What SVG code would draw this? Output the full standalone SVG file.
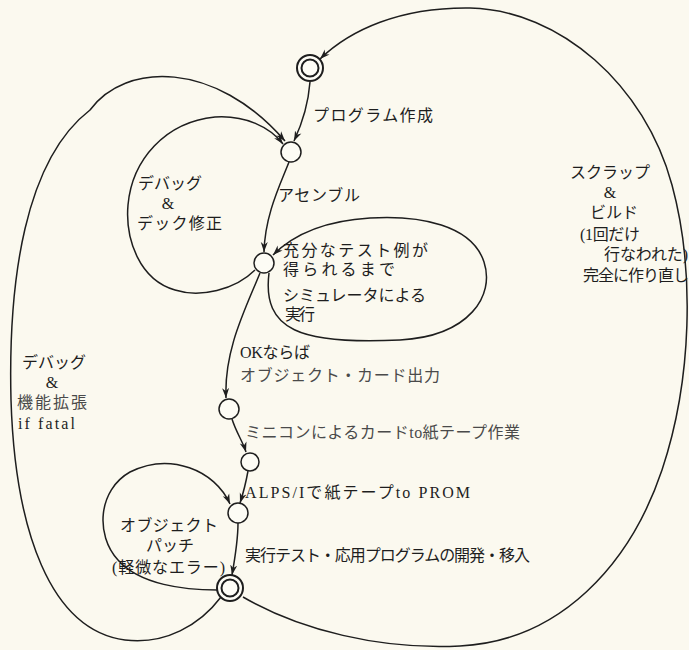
<svg xmlns="http://www.w3.org/2000/svg" width="689" height="650" viewBox="0 0 689 650">
<defs>
<style>
.bg{fill:#fbf9ef}
.edge{fill:none;stroke:#1e1e1e;stroke-width:1.5}
.node{fill:#fdfcf5;stroke:#1e1e1e;stroke-width:1.5}
.dbl{fill:#fdfcf5;stroke:#1e1e1e;stroke-width:2}
.t{font-family:'Liberation Serif','Noto Sans CJK JP',serif;font-size:16px;fill:#1e1e1e}
.f{fill:#4a4a4a}
.c{text-anchor:middle}
</style>
<marker id="ah" markerUnits="userSpaceOnUse" markerWidth="12" markerHeight="8" refX="10" refY="4" orient="auto">
<path d="M0,0.5 L10,4 L0,7.5 L3,4 z" fill="#1e1e1e"/>
</marker>
</defs>
<rect class="bg" x="0" y="0" width="689" height="650"/>

<g id="connectors">
<path id="e-create" class="edge" marker-end="url(#ah)" d="M310,82 C308,108 301,126 294,141"/>
<path id="e-scrap" class="edge" marker-end="url(#ah)" d="M243,597 C300,630 380,650 460,646 C560,641 630,565 662,470 C692,380 695,270 672,185 C645,85 560,10 470,8 C400,7 350,30 320,59"/>
<path id="e-assemble" class="edge" marker-end="url(#ah)" d="M289,162 C280,185 265,215 264,252"/>
<path id="e-debug1" class="edge" marker-end="url(#ah)" d="M255,270 C235,290 200,298 175,290 C140,280 125,240 128,205 C132,160 165,122 215,117 C245,115 270,127 283,144"/>
<path id="e-debug2" class="edge" marker-end="url(#ah)" d="M221,597 C200,625 165,645 125,640 C50,630 15,530 11,400 C8,280 25,160 90,110 C125,62 215,60 285,141"/>
<path id="e-sim" class="edge" marker-end="url(#ah)" d="M269,273 C262,330 300,345 400,340 C470,336 495,295 484,262 C472,225 420,215 370,218 C320,221 290,238 273,255"/>
<path id="e-ok" class="edge" marker-end="url(#ah)" d="M260,273 C245,310 224,350 226,398"/>
<path id="e-mini" class="edge" marker-end="url(#ah)" d="M232,419 C236,432 243,442 246,452"/>
<path id="e-alps" class="edge" marker-end="url(#ah)" d="M248,471 C246,482 243,494 240,503"/>
<path id="e-run" class="edge" marker-end="url(#ah)" d="M238,523 C238,540 235,558 232,575"/>
<path id="e-patch" class="edge" marker-end="url(#ah)" d="M217,590 C185,590 140,585 118,560 C95,535 98,490 130,472 C170,452 215,470 230,504"/>
</g>

<g id="n0"><circle class="dbl" cx="310" cy="68" r="13"/><circle class="dbl" cx="310" cy="68" r="8.5"/></g>
<g id="n1"><circle class="node" cx="291" cy="152" r="10"/></g>
<g id="n2"><circle class="node" cx="264" cy="263" r="10"/></g>
<g id="n3"><circle class="node" cx="229" cy="409" r="10"/></g>
<g id="n4"><circle class="node" cx="250" cy="462" r="9"/></g>
<g id="n5"><circle class="node" cx="238" cy="513" r="10"/></g>
<g id="n6"><circle class="dbl" cx="230" cy="588" r="13"/><circle class="dbl" cx="230" cy="588" r="8.5"/></g>

<g id="labels">
<text class="t" x="313" y="121" textLength="120">プログラム作成</text>
<text class="t" x="278" y="201" textLength="82">アセンブル</text>
<text class="t c" x="170" y="189">デバッグ</text>
<text class="t c" x="168" y="209">&amp;</text>
<text class="t" x="137" y="229" textLength="85">デック修正</text>
<text class="t" x="283" y="256" textLength="145">充分なテスト例が</text>
<text class="t" x="283" y="275" textLength="112">得られるまで</text>
<text class="t" x="283" y="301" textLength="143">シミュレータによる</text>
<text class="t" x="285" y="320" textLength="30">実行</text>
<text class="t" x="240" y="358" textLength="70">OKならば</text>
<text class="t f" x="240" y="381" textLength="200">オブジェクト・カード出力</text>
<text class="t f" x="245" y="438" textLength="275">ミニコンによるカードto紙テープ作業</text>
<text class="t" x="245" y="498" textLength="225">ALPS/Iで紙テープto PROM</text>
<text class="t" x="245" y="561" textLength="285">実行テスト・応用プログラムの開発・移入</text>
<text class="t c" x="54" y="368">デバッグ</text>
<text class="t c" x="52" y="388">&amp;</text>
<text class="t f" x="17" y="408" textLength="70">機能拡張</text>
<text class="t" x="18" y="429" textLength="57">if fatal</text>
<text class="t" x="120" y="531" textLength="98">オブジェクト</text>
<text class="t c" x="170" y="551">パッチ</text>
<text class="t" x="112" y="573" textLength="113">(軽微なエラー)</text>
<text class="t c" x="610" y="178">スクラップ</text>
<text class="t c" x="610" y="198">&amp;</text>
<text class="t c" x="614" y="218">ビルド</text>
<text class="t" x="580" y="240" textLength="60">(1回だけ</text>
<text class="t" x="604" y="260" textLength="84">行なわれた)</text>
<text class="t" x="583" y="281" textLength="106">完全に作り直し</text>
</g>
</svg>
